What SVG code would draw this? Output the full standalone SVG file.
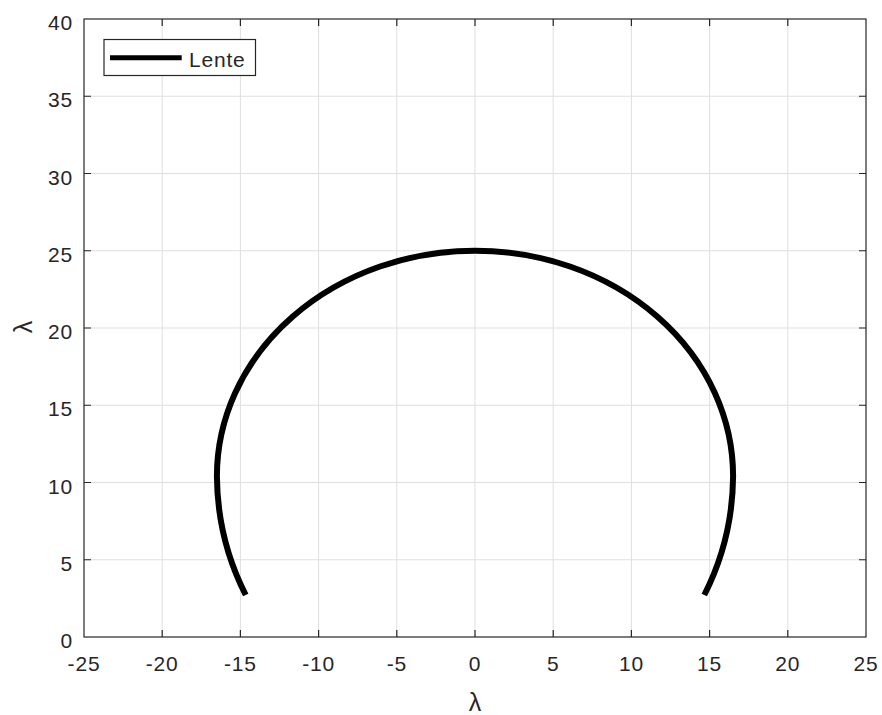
<svg xmlns="http://www.w3.org/2000/svg" width="882" height="715" viewBox="0 0 882 715">
<style>
.grid{stroke:#dfdfdf;stroke-width:1;fill:none}
.axis{stroke:#262626;stroke-width:1.2;fill:none}
.tick{stroke:#262626;stroke-width:1.2}
.lbl{font-family:"Liberation Sans",Arial,sans-serif;font-size:21px;fill:#262626;letter-spacing:0.8px}
.xl{text-anchor:middle}
.yl{text-anchor:end}
.curve{stroke:#000;stroke-width:6;fill:none;stroke-linecap:butt;stroke-linejoin:round}
</style>
<rect width="882" height="715" fill="#fff"/>
<g id="grid">
<path class="grid" d="M162.2,19V637M240.4,19V637M318.6,19V637M396.8,19V637M475,19V637M553.2,19V637M631.4,19V637M709.6,19V637M787.8,19V637"/>
<path class="grid" d="M84,96.25H866M84,173.5H866M84,250.75H866M84,328H866M84,405.25H866M84,482.5H866M84,559.75H866"/>
</g>
<g id="axes">
<rect class="axis" x="84" y="19" width="782" height="618"/>
<path class="tick" d="M162.2,637v-7M240.4,637v-7M318.6,637v-7M396.8,637v-7M475,637v-7M553.2,637v-7M631.4,637v-7M709.6,637v-7M787.8,637v-7
M162.2,19v7M240.4,19v7M318.6,19v7M396.8,19v7M475,19v7M553.2,19v7M631.4,19v7M709.6,19v7M787.8,19v7
M84,96.25h7M84,173.5h7M84,250.75h7M84,328h7M84,405.25h7M84,482.5h7M84,559.75h7
M866,96.25h-7M866,173.5h-7M866,250.75h-7M866,328h-7M866,405.25h-7M866,482.5h-7M866,559.75h-7"/>
</g>
<g id="xticklabels" class="lbl xl">
<text x="84" y="671">-25</text>
<text x="162.2" y="671">-20</text>
<text x="240.4" y="671">-15</text>
<text x="318.6" y="671">-10</text>
<text x="396.8" y="671">-5</text>
<text x="475" y="671">0</text>
<text x="553.2" y="671">5</text>
<text x="631.4" y="671">10</text>
<text x="709.6" y="671">15</text>
<text x="787.8" y="671">20</text>
<text x="866" y="671">25</text>
</g>
<g id="yticklabels" class="lbl yl">
<text x="73" y="648">0</text>
<text x="73" y="570.75">5</text>
<text x="73" y="493.5">10</text>
<text x="73" y="416.25">15</text>
<text x="73" y="339">20</text>
<text x="73" y="261.75">25</text>
<text x="73" y="184.5">30</text>
<text x="73" y="107.25">35</text>
<text x="73" y="30">40</text>
</g>
<g id="axislabels">
<text x="475" y="711" text-anchor="middle" font-family="'Liberation Sans',Arial,sans-serif" font-size="25" fill="#262626">λ</text>
<text transform="translate(32,327) rotate(-90)" x="0" y="0" text-anchor="middle" font-family="'Liberation Sans',Arial,sans-serif" font-size="25" fill="#262626">λ</text>
</g>
<g id="connectors">
<path id="lente" class="curve" d="M245.7,595 A258.1,262.7 0 0 1 216.9,476.3 A258.1,225.6 0 0 1 733.1,476.3 A258.1,262.7 0 0 1 704.3,595"/>
</g>
<g id="legend">
<rect x="104" y="39.5" width="151.5" height="36" fill="#fff" stroke="#262626" stroke-width="1.2"/>
<line x1="110" y1="57.7" x2="181.7" y2="57.7" stroke="#000" stroke-width="5"/>
<text class="lbl" x="189" y="67">Lente</text>
</g>
</svg>
